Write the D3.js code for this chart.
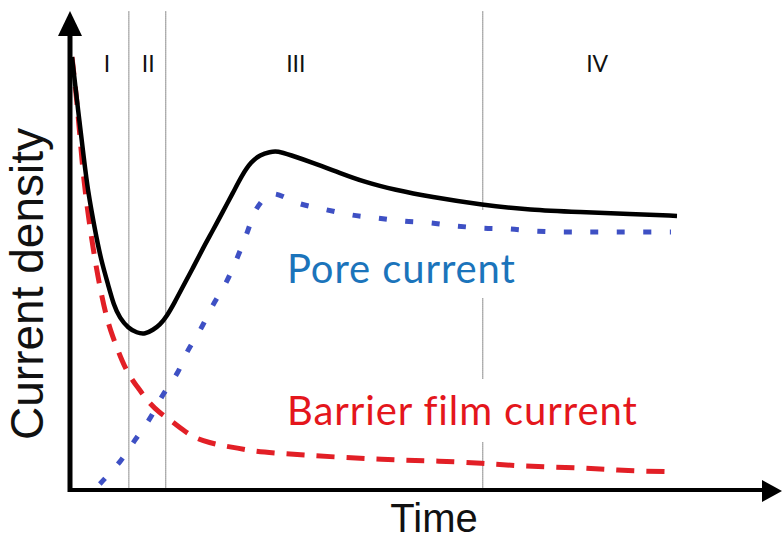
<!DOCTYPE html>
<html>
<head>
<meta charset="utf-8">
<script src="https://cdn.jsdelivr.net/npm/d3@7"></script>
<style>
  body { margin: 0; background: #fff; }
  .chart svg { display: block; }
</style>
</head>
<body>
<div class="chart"></div>
<script>
// Data (time and current density in arbitrary units, 0-100)
var totalTime = [0, 1.0, 2.0, 2.6, 3.8, 4.8, 6.0, 6.9, 7.9, 9.3, 10.7, 12.1, 13.4, 14.5, 15.7, 17.0, 18.3, 20.0, 21.6, 23.3, 24.9, 26.6, 28.1, 29.6, 31.1, 32.7, 34.0, 36.0, 39.8, 44.3, 48.4, 53.4, 59.2, 67.9, 75.7, 84.0, 92.2, 100];
var totalCurrent = [100, 87.8, 76.2, 69.3, 60.0, 53.1, 47.3, 42.7, 39.7, 37.4, 36.3, 36.0, 37.0, 38.1, 40.2, 43.4, 46.9, 51.3, 55.7, 60.0, 64.2, 68.6, 72.7, 75.8, 77.4, 78.1, 78.3, 77.4, 75.6, 73.2, 71.1, 69.3, 67.7, 65.8, 64.7, 64.2, 63.7, 63.3];

var poreTime = [4.6, 7.9, 10.4, 12.9, 15.0, 17.4, 19.2, 21.2, 23.3, 25.5, 27.3, 28.8, 30.4, 31.9, 33.2, 37.7, 42.1, 46.3, 50.6, 54.7, 59.2, 63.3, 67.8, 72.1, 76.5, 81.0, 85.1, 89.4, 93.9, 99.0];
var poreCurrent = [1.4, 6.5, 11.5, 16.6, 21.9, 27.0, 32.3, 37.0, 42.7, 48.0, 53.6, 58.9, 64.7, 67.4, 68.4, 66.1, 64.7, 63.5, 62.8, 62.1, 61.7, 61.0, 60.5, 60.3, 59.8, 59.6, 59.6, 59.6, 59.6, 59.6];

var barrierTime = [0, 0.8, 1.5, 2.1, 3.5, 4.6, 5.6, 6.6, 8.4, 9.6, 11.2, 12.6, 14.5, 16.2, 18.3, 20.3, 22.8, 25.0, 27.3, 29.9, 33.9, 38.2, 43.8, 49.3, 54.7, 60.3, 67.9, 74.0, 85.1, 91.7, 99.8];
var barrierCurrent = [100, 90.1, 78.5, 69.3, 55.4, 46.9, 40.4, 35.8, 29.3, 26.1, 23.1, 20.3, 17.8, 16.2, 13.9, 12.0, 10.9, 10.2, 9.7, 9.0, 8.5, 8.1, 7.6, 7.2, 6.9, 6.7, 6.2, 5.5, 5.1, 4.4, 4.2];

var stageBounds = [9.4, 15.5, 67.9];
var stageNames = ["I", "II", "III", "IV"];
var stageCenters = [5.8, 12.6, 37.0, 86.8];

// Svg setup
var svgWidth = 782;
var svgHeight = 540;
var svg = d3.select(".chart")
  .append("svg")
  .attr("width", svgWidth)
  .attr("height", svgHeight);

var xScale = d3.scaleLinear().domain([0, 100]).range([72, 677]);
var yScale = d3.scaleLinear().domain([0, 100]).range([490, 57]);

var zipPts = (ts, cs) => ts.map((t, i) => [t, cs[i]]);
var lineGen = d3.line()
  .x(d => xScale(d[0]))
  .y(d => yScale(d[1]))
  .curve(d3.curveCatmullRom.alpha(0.5));
// smoother one for the total current
var smoothGen = d3.line()
  .x(d => xScale(d[0]))
  .y(d => yScale(d[1]))
  .curve(d3.curveBasis);

// Stage boundaries (thin dotted)
svg.selectAll(".stage-line")
  .data(stageBounds)
  .enter()
  .append("line")
  .attr("class", "stage-line")
  .attr("x1", d => xScale(d))
  .attr("x2", d => xScale(d))
  .attr("y1", yScale(110.5))
  .attr("y2", yScale(0))
  .attr("stroke", "#222")
  .attr("stroke-width", 1)
  .attr("stroke-dasharray", "1,1");

// white boxes behind the labels (they hide the dotted line)
svg.append("rect").attr("x", 284).attr("y", 210).attr("width", 232).attr("height", 88).attr("fill", "#fff");
svg.append("rect").attr("x", 284).attr("y", 379).attr("width", 352).attr("height", 63).attr("fill", "#fff");

// Curves
svg.append("path")
  .attr("d", lineGen(zipPts(poreTime, poreCurrent)))
  .attr("fill", "none")
  .attr("stroke", "#3e50c4")
  .attr("stroke-width", 5)
  .attr("stroke-dasharray", "8,18.5");

svg.append("path")
  .attr("d", smoothGen(zipPts(barrierTime, barrierCurrent)))
  .attr("fill", "none")
  .attr("stroke", "#e21f26")
  .attr("stroke-width", 5)
  .attr("stroke-dasharray", "18,12");

svg.append("path")
  .attr("d", smoothGen(zipPts(totalTime, totalCurrent)))
  .attr("fill", "none")
  .attr("stroke", "#000")
  .attr("stroke-width", 4.5);

// Axes with arrow heads
var axX = xScale(0) - 2;
var axY = yScale(0);
svg.append("line")
  .attr("x1", axX).attr("x2", axX)
  .attr("y1", axY + 2).attr("y2", 30)
  .attr("stroke", "#000").attr("stroke-width", 5);
svg.append("path")
  .attr("d", `M${axX},11 L${axX - 12},36 L${axX + 12},36 Z`)
  .attr("fill", "#000");
svg.append("line")
  .attr("x1", axX - 2).attr("x2", 765)
  .attr("y1", axY).attr("y2", axY)
  .attr("stroke", "#000").attr("stroke-width", 4);
svg.append("path")
  .attr("d", `M782,${axY + 1} L762,${axY - 10} L762,${axY + 12} Z`)
  .attr("fill", "#000");

// Stage labels
svg.selectAll(".stage-label")
  .data(stageNames)
  .enter()
  .append("text")
  .attr("class", "stage-label")
  .attr("x", (d, i) => xScale(stageCenters[i]))
  .attr("y", 72)
  .attr("text-anchor", "middle")
  .style("font-family", "Lato, 'Open Sans', sans-serif")
  .style("font-size", "23px")
  .style("fill", "#111")
  .text(d => d);

// Series labels
svg.append("text")
  .attr("x", 287)
  .attr("y", 283)
  .style("font-family", "Lato, 'Open Sans', sans-serif")
  .style("font-size", "40px")
  .style("letter-spacing", "0.9px")
  .style("fill", "#1b74bb")
  .text("Pore current");

svg.append("text")
  .attr("x", 287)
  .attr("y", 425)
  .style("font-family", "Lato, 'Open Sans', sans-serif")
  .style("font-size", "40px")
  .style("letter-spacing", "0.9px")
  .style("fill", "#e4161c")
  .text("Barrier film current");

// Axis titles
svg.append("text")
  .attr("transform", "translate(43, 284) rotate(-90)")
  .attr("text-anchor", "middle")
  .style("font-family", "'Liberation Sans', Arial, sans-serif")
  .style("font-size", "46px")
  .style("fill", "#111")
  .text("Current density");

svg.append("text")
  .attr("x", 434)
  .attr("y", 532)
  .attr("text-anchor", "middle")
  .style("font-family", "'Liberation Sans', Arial, sans-serif")
  .style("font-size", "40px")
  .style("fill", "#111")
  .text("Time");
</script>
</body>
</html>
